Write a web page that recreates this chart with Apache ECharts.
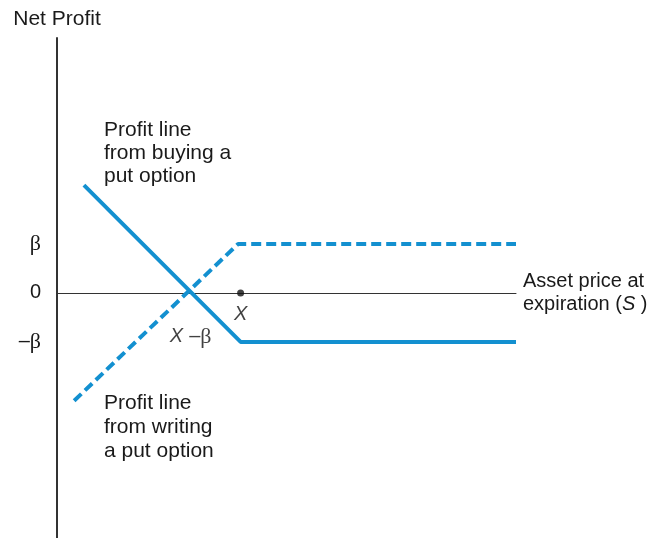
<!DOCTYPE html>
<html>
<head>
<meta charset="utf-8">
<script src="https://cdn.jsdelivr.net/npm/echarts@6/dist/echarts.min.js"></script>
<style>
html, body { margin: 0; padding: 0; background: #fff; }
#chart { width: 654px; height: 538px; }
</style>
</head>
<body>
<div id="chart"></div>
<script>
// strike price X and premium β (arbitrary units)
const strike = 7.5
const premium = 2
const buyPut = [[1.1, 4.4], [7.5, -2], [18.75, -2]]
const writePut = [[0.7, -4.4], [7.4, 2], [18.75, 2]]
const yTicks = [-2, 0, 2]
const yTickLabels = ['{s|–}{g|β}', '{s|0}', '{g|β}']

const blue = '#1390d0'
const ink = '#1a1a1a'
const font = 'Liberation Sans'

const chart = echarts.init(document.getElementById('chart'))
chart.setOption({
  animation: false,
  grid: { left: 57, right: 138, top: 38, bottom: 0 },
  xAxis: {
    type: 'value',
    min: 0,
    max: 18.75,
    name: '{a|Asset price at}\n{a|expiration (}{i|S}{a| )}',
    nameLocation: 'end',
    nameGap: 7,
    nameTextStyle: {
      rich: {
        a: { fontFamily: font, fontSize: 20, color: ink, lineHeight: 23 },
        i: { fontFamily: font, fontSize: 20, color: ink, fontStyle: 'italic', lineHeight: 23 }
      }
    },
    axisLine: { show: true, onZero: true, lineStyle: { color: '#333', width: 1 } },
    axisTick: { show: false },
    axisLabel: { show: false },
    splitLine: { show: false }
  },
  yAxis: {
    type: 'value',
    min: -10,
    max: 10.4,
    name: 'Net Profit',
    nameLocation: 'end',
    nameGap: 8,
    nameTextStyle: { fontFamily: font, fontSize: 21, color: ink },
    axisLine: { show: true, onZero: false, lineStyle: { color: '#333', width: 2 } },
    axisTick: { show: false },
    splitLine: { show: false },
    axisLabel: {
      customValues: yTicks,
      margin: 16,
      formatter: v => yTickLabels[yTicks.indexOf(v)],
      rich: {
        s: { fontFamily: font, fontSize: 20, color: ink },
        g: { fontFamily: 'Liberation Serif', fontSize: 22, color: ink }
      }
    }
  },
  series: [
    {
      name: 'buy put',
      type: 'line',
      data: buyPut,
      symbol: 'none',
      lineStyle: { color: blue, width: 4 }
    },
    {
      name: 'write put',
      type: 'line',
      data: writePut,
      symbol: 'none',
      lineStyle: { color: blue, width: 4, type: [10, 5] }
    },
    {
      name: 'strike',
      type: 'scatter',
      data: [[strike, 0]],
      symbolSize: 7,
      itemStyle: { color: '#111' },
      label: {
        show: true,
        position: 'bottom',
        distance: 8,
        formatter: 'X',
        fontFamily: font,
        fontSize: 20,
        fontStyle: 'italic',
        color: '#111'
      }
    },
    {
      name: 'breakeven',
      type: 'scatter',
      data: [[strike - premium, 0]],
      symbolSize: 0,
      label: {
        show: true,
        position: 'bottom',
        distance: 33,
        offset: [-1, 0],
        formatter: '{i|X}{s|–}{g|β}',
        rich: {
          i: { fontFamily: font, fontSize: 20, fontStyle: 'italic', color: '#111', padding: [0, 6, 0, 0] },
          s: { fontFamily: font, fontSize: 20, color: '#111' },
          g: { fontFamily: 'Liberation Serif', fontSize: 22, color: '#111' }
        }
      }
    }
  ],
  graphic: [
    {
      type: 'text',
      left: 104,
      top: 119,
      style: {
        text: 'Profit line\nfrom buying a\nput option',
        fontFamily: font,
        fontSize: 21,
        lineHeight: 23,
        fill: ink
      }
    },
    {
      type: 'text',
      left: 104,
      top: 391,
      style: {
        text: 'Profit line\nfrom writing\na put option',
        fontFamily: font,
        fontSize: 21,
        lineHeight: 24,
        fill: ink
      }
    }
  ]
})
</script>
</body>
</html>
